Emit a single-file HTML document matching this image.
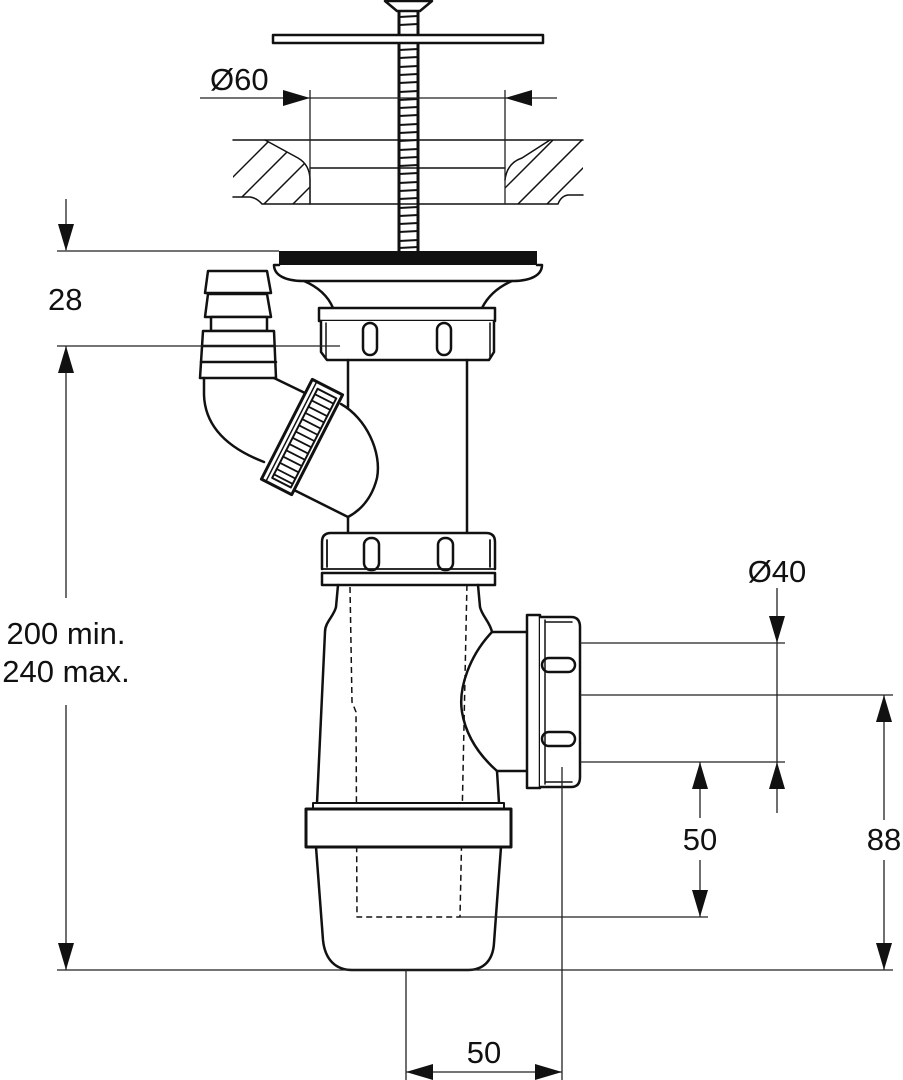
<!DOCTYPE html>
<html><head><meta charset="utf-8"><style>
html,body{margin:0;padding:0;background:#fff}
svg{display:block}
text{font-family:"Liberation Sans",Arial,sans-serif;font-size:31px;fill:#111}
</style></head><body>
<svg width="903" height="1080" viewBox="0 0 903 1080" xmlns="http://www.w3.org/2000/svg">
<defs>
<clipPath id="cl"><path d="M233,140 L265,140 L298,158 Q310,165 310,180 L310,204 L262,204 Q257,197 250,197 L233,197 Z"/></clipPath>
<clipPath id="cr"><path d="M550,140 L583,140 L583,195 L568,195 Q561,196 558,204 L505,204 L505,180 Q507,163 522,158 Z"/></clipPath>
</defs>
<g fill="none" stroke="#111" stroke-linecap="round" stroke-linejoin="round">

<!-- countertop -->
<g stroke-width="1.5">
<path d="M233,140 L583,140"/>
<path d="M265,140 L298,158 Q310,165 310,180 L310,204"/>
<path d="M550,140 L522,158 Q507,163 505,180"/>
<path d="M233,197 L250,197 Q257,198 262,204 L558,204 Q561,196 568,195 L583,195"/>
<path d="M310,168 L505,168"/>
<g clip-path="url(#cl)">
<path d="M206,204 L270,140 M235,204 L299,140 M264,204 L328,140 M293,204 L357,140"/>
</g>
<g clip-path="url(#cr)">
<path d="M489,204 L553,140 M518,204 L582,140 M547,204 L611,140 M576,204 L640,140"/>
</g>
</g>

<!-- rod -->
<g stroke-width="3">
<path d="M399,11 L399,251 M418,11 L418,251"/>
</g>
<g stroke-width="2">
<path d="M399,17 L418,16 M399,25 L418,24 M399,50 L418,49 M399,58 L418,57 M399,67 L418,66 M399,75 L418,74 M399,83 L418,82 M399,92 L418,91 M399,100 L418,99 M399,108 L418,107 M399,116 L418,115 M399,125 L418,124 M399,133 L418,132 M399,141 L418,140 M399,150 L418,149 M399,158 L418,157 M399,166 L418,165 M399,174 L418,173 M399,183 L418,182 M399,191 L418,190 M399,199 L418,198 M399,208 L418,207 M399,216 L418,215 M399,224 L418,223 M399,232 L418,231 M399,241 L418,240 M399,248 L418,247"/>
</g>
<!-- knob head -->
<path d="M385,1 L432,1 L420,11 L397,11 Z" fill="#fff" stroke-width="2.5"/>
<!-- disc -->
<rect x="273" y="35" width="270" height="8" fill="#fff" stroke-width="2.5"/>

<!-- black plate -->
<rect x="279" y="251" width="258" height="14" fill="#111" stroke="none"/>
<!-- flange -->
<path d="M279,265 L274,265 C274,275 285,281 303,281 L513,281 C531,281 542,275 542,265 L537,265" stroke-width="2.5" fill="#fff"/>
<path d="M304,281 C318,287 328,296 333,308 M512,281 C498,287 488,296 482,308" stroke-width="2.5"/>

<!-- top nut -->
<rect x="319" y="308" width="176" height="13" fill="#fff" stroke-width="2.5"/>
<path d="M321,321 L321,352 L327,360 L489,360 L494,352 L494,321" fill="#fff" stroke-width="2.5"/>
<path d="M326,323 L326,357 M490,323 L490,357" stroke-width="1.5"/>
<rect x="363" y="323" width="14" height="32" rx="7" stroke-width="2.5"/>
<rect x="437" y="323" width="14" height="32" rx="7" stroke-width="2.5"/>

<!-- main pipe -->
<path d="M348,360 L348,407 M348,517 L348,533 M467,360 L467,533" stroke-width="2.5"/>

<!-- hose tail -->
<g stroke-width="2.5" fill="#fff">
<path d="M208,271 L267,271 L271,293 L205,293 Z"/>
<path d="M208,294 L267,294 L271,317 L205,317 Z"/>
<rect x="211" y="317" width="56" height="14"/>
<path d="M203,331 L274,331 L276,378 L200,378 Z"/>
<path d="M202,346 L275,346 M201,362 L276,362"/>
</g>
<!-- elbow -->
<path d="M204,378 L204,395 C205,425 225,447 264,462" stroke-width="2.5"/>
<path d="M274,378 L305,393" stroke-width="2.5"/>
<!-- dome and connection -->
<path d="M341,404 C366,418 382,452 377,478 C372,498 361,510 348,517" stroke-width="2.5"/>
<path d="M292,489 L348,517" stroke-width="2.5"/>
<!-- angled nut -->
<g transform="translate(302,437) rotate(27)">
<rect x="-17" y="-56" width="34" height="112" fill="#fff" stroke-width="3"/>
<path d="M-12,-55 L-12,55" stroke-width="1.5"/>
<rect x="-8" y="-50" width="21" height="100" stroke-width="2"/>
<path d="M-8,-44 L13,-44 M-8,-37 L13,-37 M-8,-30 L13,-30 M-8,-23 L13,-23 M-8,-16 L13,-16 M-8,-9 L13,-9 M-8,-2 L13,-2 M-8,5 L13,5 M-8,12 L13,12 M-8,19 L13,19 M-8,26 L13,26 M-8,33 L13,33 M-8,40 L13,40 M-8,46 L13,46" stroke-width="1.8"/>
</g>

<!-- second nut -->
<path d="M322,569 L322,542 Q322,533 331,533 L486,533 Q495,533 495,542 L495,569" fill="#fff" stroke-width="2.5"/>
<path d="M327,540 L327,567 M490,540 L490,567 M322,569 L495,569" stroke-width="1.8"/>
<rect x="322" y="573" width="173" height="12" fill="#fff" stroke-width="2.5"/>
<rect x="364" y="538" width="15" height="32" rx="7" stroke-width="2.5"/>
<rect x="438" y="538" width="15" height="32" rx="7" stroke-width="2.5"/>

<!-- body -->
<path d="M338,585 L336,607 C334,616 325,622 325,632 L317,803" stroke-width="2.5"/>
<path d="M478,585 L480,607 C482,616 490,622 492,632" stroke-width="2.5"/>
<path d="M497,771 L499,803" stroke-width="2.5"/>
<!-- side outlet -->
<path d="M492,632 C470,655 458,688 462,712 C466,736 480,756 497,771" stroke-width="2.5"/>
<path d="M492,632 L527,632 M497,771 L527,771" stroke-width="2.5"/>
<rect x="527" y="615" width="13" height="173" fill="#fff" stroke-width="2.5"/>
<path d="M540,617 L571,617 Q580,617 580,627 L580,777 Q580,787 571,787 L540,787" fill="#fff" stroke-width="2.5"/>
<path d="M545,620 L545,784 M545,622 L572,622 M545,782 L572,782" stroke-width="1.5"/>
<rect x="542" y="658" width="33" height="14" rx="7" stroke-width="2.5"/>
<rect x="542" y="732" width="33" height="14" rx="7" stroke-width="2.5"/>

<!-- dashed inner -->
<path d="M350,587 L352,702 L356,712 L357,917 L460,917 L467,582" stroke-width="1.5" stroke-dasharray="6,4" stroke-linecap="butt"/>

<!-- bottom ring and cup -->
<rect x="313" y="803" width="191" height="6" fill="#fff" stroke-width="2"/>
<rect x="306" y="809" width="205" height="38" fill="#fff" stroke-width="3"/>
<path d="M316,847 L323,940 C325,960 336,970 352,970 L468,970 C484,970 493,960 494,943 L501,847" stroke-width="2.5"/>
</g>

<!-- dimension lines -->
<g fill="none" stroke="#222" stroke-width="1.3">
<path d="M200,98 L557,98"/>
<path d="M310,90 L310,204 M505,90 L505,204"/>
<path d="M57,251 L279,251"/>
<path d="M57,346 L340,346"/>
<path d="M66,199 L66,250"/>
<path d="M66,346 L66,598 M66,705 L66,970"/>
<path d="M57,970 L893,970"/>
<path d="M460,917 L708,917"/>
<path d="M580,643 L785,643 M580,695 L893,695 M580,762 L785,762"/>
<path d="M777,588 L777,813"/>
<path d="M700,762 L700,818 M700,860 L700,917"/>
<path d="M884,695 L884,820 M884,860 L884,970"/>
<path d="M406,970 L406,1080 M562,767 L562,1080"/>
<path d="M406,1072 L562,1072"/>
</g>
<g fill="#111" stroke="none">
<!-- Ø60 arrows -->
<polygon points="310,98 283,90 283,106"/>
<polygon points="505,98 532,90 532,106"/>
<!-- 28 arrows -->
<polygon points="66,251 58,224 74,224"/>
<polygon points="66,346 58,373 74,373"/>
<!-- 200 bottom -->
<polygon points="66,970 58,943 74,943"/>
<!-- Ø40 -->
<polygon points="777,643 769,616 785,616"/>
<polygon points="777,762 769,789 785,789"/>
<!-- 50 right -->
<polygon points="700,762 692,789 708,789"/>
<polygon points="700,917 692,890 708,890"/>
<!-- 88 -->
<polygon points="884,695 876,722 892,722"/>
<polygon points="884,970 876,943 892,943"/>
<!-- 50 bottom -->
<polygon points="406,1072 433,1064 433,1080"/>
<polygon points="562,1072 535,1064 535,1080"/>
</g>

<text x="210" y="90">Ø60</text>
<text x="48" y="310">28</text>
<text x="66" y="644" text-anchor="middle">200 min.</text>
<text x="66" y="682" text-anchor="middle">240 max.</text>
<text x="777" y="582" text-anchor="middle">Ø40</text>
<text x="700" y="850" text-anchor="middle">50</text>
<text x="884" y="850" text-anchor="middle">88</text>
<text x="484" y="1063" text-anchor="middle">50</text>
</svg>
</body></html>
